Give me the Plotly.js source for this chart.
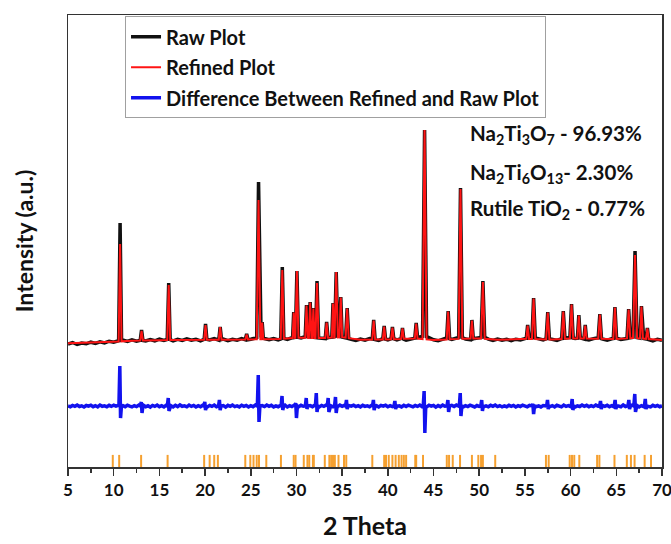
<!DOCTYPE html>
<html>
<head>
<meta charset="utf-8">
<script src="https://cdn.plot.ly/plotly-3.0.1.min.js"></script>
<style>
  html, body { margin: 0; padding: 0; background: #fff; }
  #chart { width: 671px; height: 544px; }
</style>
</head>
<body>
<div id="chart"></div>
<script>
// ---------- Diffraction data (2θ in degrees, intensity in a.u.) ----------

// Background sampled every 0.5° from 5° to 70° (raw, noisy)
const bgStart = 5;
const bgStep = 0.5;
const rawBackground = [
  1230, 1245, 1225, 1240, 1232, 1248, 1236, 1252, 1240, 1258, 1248, 1262, 1270, 1255, 1272, 1258,
  1268, 1260, 1275, 1262, 1278, 1265, 1280, 1262, 1276, 1266, 1282, 1268, 1278, 1262, 1280, 1270,
  1284, 1268, 1280, 1264, 1276, 1268, 1284, 1270, 1278, 1290, 1300, 1285, 1272, 1285, 1270, 1288,
  1276, 1292, 1300, 1290, 1305, 1300, 1296, 1290, 1280, 1295, 1300, 1310, 1300, 1290, 1276, 1265,
  1280, 1268, 1284, 1276, 1266, 1285, 1272, 1288, 1270, 1286, 1268, 1282, 1290, 1300, 1310, 1295,
  1272, 1262, 1280, 1292, 1276, 1290, 1300, 1280, 1272, 1286, 1292, 1300, 1278, 1266, 1280, 1268,
  1276, 1264, 1278, 1270, 1284, 1292, 1296, 1280, 1270, 1288, 1276, 1266, 1284, 1290, 1296, 1286,
  1292, 1278, 1270, 1284, 1292, 1280, 1268, 1282, 1290, 1276, 1282, 1292, 1300, 1290, 1284, 1276,
  1262, 1278, 1268
];

// Smooth background of the refined profile
const fitBgTheta = [5, 8, 10, 12, 15, 20, 25, 28, 30, 33, 35, 37, 40, 43, 45, 48, 50, 52, 55, 58, 60, 63, 65, 67, 70];
const fitBgLevel = [1238, 1244, 1252, 1262, 1268, 1272, 1276, 1280, 1292, 1290, 1298, 1272, 1276, 1286, 1270, 1282, 1286, 1272, 1282, 1274, 1286, 1282, 1280, 1290, 1270];

// Reflections: position, observed top, calculated top, half width of the foot
const peakTheta = [10.70, 13.05, 16.02, 20.05, 21.65, 24.55, 25.85, 26.25, 28.45, 29.70, 30.05, 31.10, 31.50, 31.85, 32.25,
                   33.30, 34.00, 34.35, 34.85, 35.55, 38.45, 39.60, 40.50, 41.60, 43.10, 44.02, 46.60, 47.95, 49.20, 50.40,
                   55.30, 55.95, 57.50, 59.20, 60.10, 60.90, 61.60, 63.20, 64.85, 66.35, 67.05, 67.75, 68.40];
const rawTop = [2440, 1370, 1840, 1430, 1400, 1330, 2850, 1450, 2000, 1550, 1960, 1620, 1650, 1590, 1860,
                1450, 1640, 1950, 1700, 1590, 1470, 1410, 1400, 1390, 1440, 3370, 1560, 2790, 1470, 1860,
                1420, 1690, 1550, 1560, 1630, 1520, 1420, 1530, 1600, 1580, 2160, 1610, 1390];
const fitTop = [2230, 1360, 1820, 1420, 1400, 1325, 2670, 1445, 1970, 1545, 1960, 1615, 1645, 1585, 1840,
                1445, 1635, 1950, 1695, 1585, 1465, 1405, 1395, 1385, 1435, 3370, 1555, 2780, 1465, 1850,
                1415, 1685, 1545, 1555, 1625, 1515, 1415, 1525, 1595, 1575, 2120, 1605, 1385];
const peakHalfWidth = [0.16, 0.15, 0.16, 0.15, 0.15, 0.15, 0.20, 0.12, 0.17, 0.12, 0.17, 0.14, 0.14, 0.12, 0.17,
                       0.15, 0.13, 0.18, 0.15, 0.17, 0.16, 0.15, 0.15, 0.15, 0.15, 0.22, 0.16, 0.20, 0.15, 0.20,
                       0.15, 0.18, 0.18, 0.18, 0.18, 0.16, 0.15, 0.18, 0.18, 0.18, 0.22, 0.16, 0.15];

// Residual (observed − calculated): noise every 0.25° plus features at reflections
const residualStep = 0.25;
const residualNoise = [
  0, -8, 6, -3, 9, -5, 2, -10, 5, -2, 8, -7, 4, -9, 10, -3, 1, -8, 7, -4, 9, -2, 6, -10, 3,
  -7, 8, -1, -9, 4, -6, 10, -3, 7, -8, 2, -11, 6, -4, 9, -7, 3, -10, 8, -2, 4, -9, 7, -6, 11,
  -3, 1, -8, 9, -4, 6, -10, 3, -7, 8, -2, -9, 6, -4, 10, -7, 2, -8, 4, -11, 7, -3, 9, -6, 1,
  -9, 8, -4, 6, -10, 3, -7, 9, -2, -8, 4, -6, 10, -3, 7, -9, 2, -7, 6, -4, 8, -10, 3, -6, 9,
  -2, -8, 7, -3, 6, -10, 4, -7, 8, -1, -9, 6, -4, 10, -7, 3, -8, 2, -6, 9, -3, 7, -10, 4, -2,
  8, -6, 3, -9, 7, -4, 1, -7, 9, -5, 3, -10, 6, -2, 8, -8, 4, -6, 10, -3, 2, -9, 7, -5, 9,
  -1, -8, 5, -4, 10, -6, 3, -9, 8, -2, 6, -11, 4, -7, 9, -3, 1, -8, 6, -5, 10, -2, 7, -9, 3,
  -6, 8, -3, -10, 5, -4, 9, -7, 2, -8, 7, -3, 10, -6, 4, -9, 1, -7, 8, -4, 6, -10, 3, -5, 9,
  -2, -8, 6, -4, 10, -7, 2, -9, 5, -3, 8, -6, 4, -10, 7, -1, -8, 9, -4, 3, -7, 6, -9, 2, -5,
  10, -3, 7, -8, 4, -6, 9, -2, -10, 5, -4, 8, -7, 3, -9, 6, -1, -8, 10, -5, 2, -7, 9, -3, 6,
  -10, 4, -6, 8, -2, -9, 7, -4, 5, -8, 3
];
const residualTheta = [10.70, 13.05, 16.00, 20.00, 21.60, 25.85, 28.45, 29.95, 31.10, 32.20, 33.50, 34.30, 35.50, 38.45,
                       40.80, 44.00, 46.60, 47.95, 50.30, 55.90, 57.50, 60.20, 63.30, 64.90, 66.40, 67.05, 68.20];
const residualUp = [400, 40, 80, 40, 60, 310, 100, 30, 80, 130, 80, 90, 60, 60, 50, 150, 60, 130, 60, 20, 60, 70, 50, 60, 60, 120, 70];
const residualDown = [-120, -70, -50, -40, -40, -160, -40, -120, -30, -60, -60, -70, -30, -40, -30, -270, -60, -100, -50, -80, -30, -40, -30, -30, -30, -60, -30];

// Bragg reflection markers (all phases)
const braggTheta = [9.9, 10.6, 13.0, 15.9, 19.9, 20.5, 21.0, 21.4, 24.4, 24.95, 25.3, 25.65, 25.9, 26.7, 28.3,
                    29.7, 29.9, 30.8, 31.2, 31.4, 31.8, 31.9, 33.1, 33.6, 33.8, 34.0, 34.2, 34.6, 35.2, 35.45,
                    38.3, 39.6, 39.8, 40.1, 40.5, 40.85, 41.2, 41.5, 41.75, 42.0, 43.0, 43.1, 43.85,
                    46.45, 46.7, 47.1, 47.9, 49.2, 49.9, 50.2, 50.4, 51.75, 57.3, 57.6, 59.9, 60.15, 60.4, 60.95,
                    62.9, 63.15, 64.8, 66.15, 66.6, 67.0, 68.1, 68.8];

// Vertical placement of the residual and reflection rows below the pattern
const RESIDUAL_OFFSET = 610;
const BRAGG_LEVEL = 58;

// ---------- Build profiles ----------
function levelAt(xs, ys, t) {
  if (t <= xs[0]) return ys[0];
  for (let i = 1; i < xs.length; i++) {
    if (t <= xs[i]) {
      const f = (t - xs[i - 1]) / (xs[i] - xs[i - 1]);
      return ys[i - 1] + f * (ys[i] - ys[i - 1]);
    }
  }
  return ys[ys.length - 1];
}

function buildProfile(bgX, bgY, tops) {
  const pts = [];
  bgX.forEach((t, i) => {
    const inside = peakTheta.some((p, j) => Math.abs(t - p) < peakHalfWidth[j]);
    if (!inside) pts.push([t, bgY[i]]);
  });
  peakTheta.forEach((p, j) => {
    const a = p - peakHalfWidth[j], b = p + peakHalfWidth[j];
    pts.push([a, levelAt(bgX, bgY, a)]);
    pts.push([p, tops[j]]);
    pts.push([b, levelAt(bgX, bgY, b)]);
  });
  pts.sort((u, v) => u[0] - v[0]);
  return { x: pts.map(q => q[0]), y: pts.map(q => q[1]) };
}

const rawBgTheta = rawBackground.map((_, i) => bgStart + i * bgStep);
const rawProfile = buildProfile(rawBgTheta, rawBackground, rawTop);
const fitProfile = buildProfile(fitBgTheta, fitBgLevel, fitTop);

function buildResidual() {
  const nTheta = residualNoise.map((_, i) => bgStart + i * residualStep);
  const pts = [];
  nTheta.forEach((t, i) => {
    const inside = residualTheta.some(p => t > p - 0.15 && t < p + 0.18);
    if (!inside) pts.push([t, residualNoise[i]]);
  });
  residualTheta.forEach((p, j) => {
    pts.push([p - 0.13, 0]);
    pts.push([p - 0.03, residualUp[j]]);
    pts.push([p + 0.05, residualDown[j]]);
    pts.push([p + 0.15, 0]);
  });
  pts.sort((u, v) => u[0] - v[0]);
  return { x: pts.map(q => q[0]), y: pts.map(q => q[1] + RESIDUAL_OFFSET) };
}
const residual = buildResidual();

// ---------- Plot ----------
const FONT = 'Lato, "Open Sans", sans-serif';

const traces = [
  {
    x: rawProfile.x, y: rawProfile.y, type: 'scatter', mode: 'lines',
    name: 'Raw Plot', legendgroup: 'a',
    line: { color: '#111111', width: 3.5 }
  },
  {
    x: fitProfile.x, y: fitProfile.y, type: 'scatter', mode: 'lines',
    name: 'Refined Plot', legendgroup: 'b',
    line: { color: '#ff1414', width: 2 }
  },
  {
    x: residual.x, y: residual.y, type: 'scatter', mode: 'lines',
    name: 'Difference Between Refined and Raw Plot', legendgroup: 'c',
    line: { color: '#1212ee', width: 3.5 }
  },
  {
    x: braggTheta, y: braggTheta.map(() => BRAGG_LEVEL), type: 'scatter', mode: 'markers',
    showlegend: false, hoverinfo: 'x',
    marker: { symbol: 'line-ns', size: 9, color: '#f5a030', line: { color: '#f5a030', width: 2 } }
  }
];

const annFont = { family: FONT, size: 20.5, color: '#111', weight: 'bold' };
const layout = {
  width: 671, height: 544,
  margin: { l: 68, r: 9, t: 15, b: 77 },
  paper_bgcolor: '#ffffff', plot_bgcolor: '#ffffff',
  showlegend: true,
  legend: {
    x: 0.096, y: 0.997, xanchor: 'left', yanchor: 'top',
    bgcolor: '#ffffff', bordercolor: '#a0a0a0', borderwidth: 1,
    font: { family: FONT, size: 20, color: '#111', weight: 'bold' },
    traceorder: 'grouped', tracegroupgap: 1.5, itemwidth: 30
  },
  xaxis: {
    range: [5, 70], tick0: 5, dtick: 5,
    ticks: 'outside', ticklen: 7, tickwidth: 1.5, tickcolor: '#333',
    minor: { dtick: 2.5, ticks: 'outside', ticklen: 4, tickwidth: 1.5, tickcolor: '#333', showgrid: false },
    showline: true, linecolor: '#333', linewidth: 1.5, mirror: true,
    showgrid: false, zeroline: false,
    ticklabeloverflow: 'allow',
    tickfont: { family: FONT, size: 17, color: '#111', weight: 'bold' },
    title: { text: '2 Theta', font: { family: FONT, size: 25, color: '#111', weight: 'bold' }, standoff: 18 }
  },
  yaxis: {
    range: [0, 4520],
    showticklabels: false, ticks: '',
    showline: true, linecolor: '#333', linewidth: 1.5, mirror: true,
    showgrid: false, zeroline: false,
    title: { text: 'Intensity (a.u.)', font: { family: FONT, size: 23, color: '#111', weight: 'bold' }, standoff: 26 }
  },
  annotations: [
    { text: 'Na<sub>2</sub>Ti<sub>3</sub>O<sub>7</sub> - 96.93%', xref: 'paper', yref: 'paper',
      x: 0.673, y: 0.735, xanchor: 'left', yanchor: 'middle', showarrow: false, font: annFont },
    { text: 'Na<sub>2</sub>Ti<sub>6</sub>O<sub>13</sub>- 2.30%', xref: 'paper', yref: 'paper',
      x: 0.673, y: 0.649, xanchor: 'left', yanchor: 'middle', showarrow: false, font: annFont },
    { text: 'Rutile TiO<sub>2</sub> - 0.77%', xref: 'paper', yref: 'paper',
      x: 0.673, y: 0.569, xanchor: 'left', yanchor: 'middle', showarrow: false, font: annFont }
  ]
};

Plotly.newPlot('chart', traces, layout, { displayModeBar: false, staticPlot: true });
</script>
</body>
</html>
